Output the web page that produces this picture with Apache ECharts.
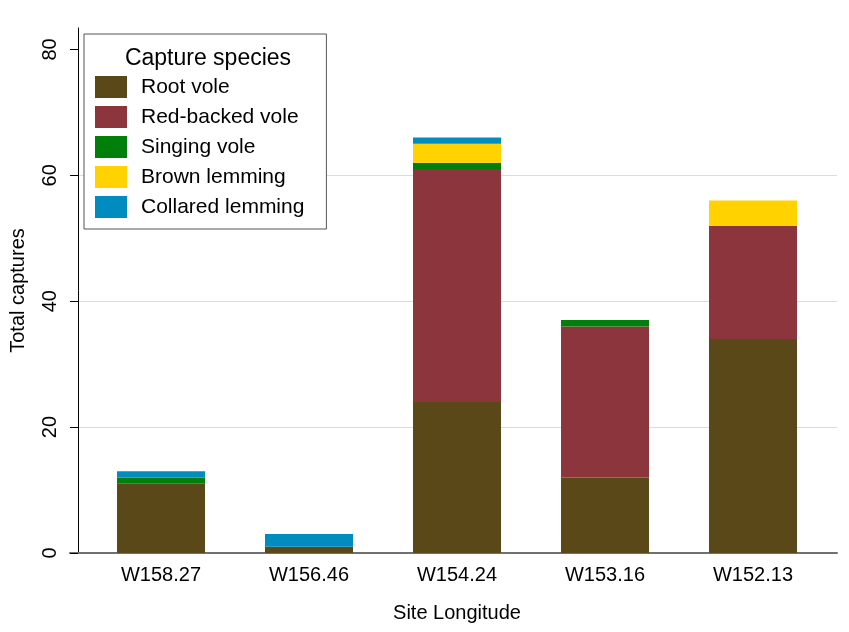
<!DOCTYPE html>
<html>
<head>
<meta charset="utf-8">
<script src="https://cdn.jsdelivr.net/npm/echarts@6/dist/echarts.min.js"></script>
<style>
html,body{margin:0;padding:0;background:#fff;}
#chart{width:849px;height:632px;}
</style>
</head>
<body>
<div id="chart"></div>
<script>
const categories = ['W158.27', 'W156.46', 'W154.24', 'W153.16', 'W152.13'];
const rootVole = [11, 1, 24, 12, 34];
const redBackedVole = [0, 0, 37, 24, 18];
const singingVole = [1, 0, 1, 1, 0];
const brownLemming = [0, 0, 3, 0, 4];
const collaredLemming = [1, 2, 1, 0, 0];
const yTicks = [0, 20, 40, 60, 80];

const seriesDefs = [
  ['Root vole', rootVole, '#5b4819'],
  ['Red-backed vole', redBackedVole, '#8c353c'],
  ['Singing vole', singingVole, '#00800a'],
  ['Brown lemming', brownLemming, '#ffd200'],
  ['Collared lemming', collaredLemming, '#008cbe']
];

const font = 'Liberation Sans, Arial, sans-serif';
const Y_MAX = 83.4;
const chart = echarts.init(document.getElementById('chart'));
chart.setOption({
  animation: false,
  backgroundColor: '#fff',
  title: {
    text: 'Capture species',
    left: 203, top: 42,
    textAlign: 'center',
    textStyle: {fontFamily: font, fontSize: 23, fontWeight: 'normal', color: '#000'}
  },
  legend: {
    orient: 'vertical',
    left: 84, top: 34,
    padding: [42, 22, 11, 11],
    itemWidth: 32, itemHeight: 22, itemGap: 8,
    borderColor: '#555', borderWidth: 1,
    backgroundColor: '#fff',
    icon: 'rect',
    textStyle: {fontFamily: font, fontSize: 21, color: '#000', padding: [0, 0, 0, 9]},
    data: seriesDefs.map(d => d[0])
  },
  grid: [
    {left: 87, right: 22, top: 28, bottom: 79, containLabel: false},
    {left: 69, right: 12, top: 28, bottom: 79, containLabel: false}
  ],
  xAxis: [
    {
      type: 'category', gridIndex: 0,
      data: categories,
      boundaryGap: true,
      axisLine: {show: false},
      axisTick: {show: false},
      splitLine: {show: false},
      axisLabel: {fontFamily: font, fontSize: 20, color: '#000', margin: 12},
      name: 'Site Longitude', nameLocation: 'middle', nameGap: 50,
      nameTextStyle: {fontFamily: font, fontSize: 20, color: '#000'}
    },
    {
      type: 'value', gridIndex: 1, min: 0, max: 1,
      axisLine: {show: true, onZero: false, lineStyle: {color: '#707070', width: 2}},
      axisTick: {show: false},
      axisLabel: {show: false},
      splitLine: {show: false}
    }
  ],
  yAxis: [
    {type: 'value', gridIndex: 0, min: 0, max: Y_MAX, show: false, splitLine: {show: false}},
    {
      type: 'value', gridIndex: 1,
      min: 0, max: Y_MAX, interval: 20,
      offset: -8,
      axisLine: {show: true, onZero: false, lineStyle: {color: '#000', width: 1}},
      axisTick: {show: true, length: 8, customValues: yTicks, lineStyle: {color: '#000'}},
      axisLabel: {
        customValues: yTicks,
        rotate: 90, margin: 18,
        fontFamily: font, fontSize: 20, color: '#000'
      },
      splitLine: {
        show: true, showMinLine: false, showMaxLine: false,
        lineStyle: {color: ['#dcdcdc', '#dcdcdc', '#dcdcdc', 'rgba(0,0,0,0)'], width: 1}
      },
      name: 'Total captures', nameLocation: 'middle', nameGap: 50,
      nameTextStyle: {fontFamily: font, fontSize: 20, color: '#000'}
    }
  ],
  series: seriesDefs.map(d => ({
    name: d[0],
    type: 'bar',
    stack: 'total',
    xAxisIndex: 0, yAxisIndex: 0,
    barWidth: 88,
    itemStyle: {color: d[2]},
    data: d[1]
  }))
});
</script>
</body>
</html>
